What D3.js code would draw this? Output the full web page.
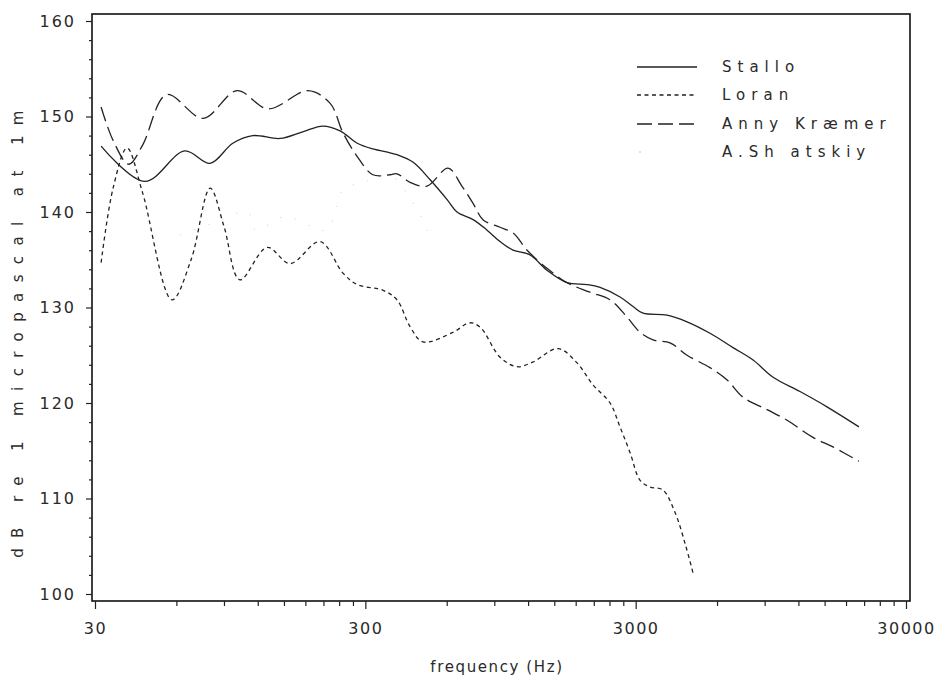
<!DOCTYPE html>
<html>
<head>
<meta charset="utf-8">
<script src="https://cdn.jsdelivr.net/npm/d3@7/dist/d3.min.js"></script>
<style>
  html, body { margin: 0; padding: 0; background: #fff; }
  svg { display: block; }
  text { font-family: "DejaVu Sans", sans-serif; fill: #2a2a2a; }
</style>
</head>
<body>
<svg id="chart" width="940" height="687"></svg>
<script>
// Radiated noise spectra, source level in dB re 1 µPa at 1 m, vs frequency.
const seriesNames = ["Stallo", "Loran", "Anny Kræmer", "A.Sh atskiy"];

const stalloFreq = [31.6, 45.9, 64.4, 80, 97, 115, 145, 176, 209, 242, 280, 320, 370, 393, 451, 520, 602, 655, 751, 846, 945, 1056, 1221, 1410, 1672, 1983, 2215, 2626, 2935, 3196, 3918, 4647, 5652, 6875, 8155, 9670, 12165, 15300, 20100];
const stalloDb   = [146.9, 143.2, 146.4, 145.1, 147.2, 148.0, 147.7, 148.4, 149.0, 148.5, 147.2, 146.6, 146.2, 146.0, 145.2, 143.4, 141.3, 140.0, 139.2, 138.1, 136.9, 136.0, 135.5, 133.9, 132.6, 132.4, 132.1, 131.1, 130.1, 129.4, 129.2, 128.5, 127.3, 125.8, 124.5, 122.7, 121.2, 119.6, 117.5];

const loranFreq = [31.6, 35, 39.4, 45, 57.8, 68, 80, 90, 103, 130, 158, 204, 248, 280, 349, 393, 439, 490, 633, 731, 800, 945, 1092, 1252, 1549, 1821, 2085, 2413, 2625, 2860, 3115, 3391, 3780, 4200, 4600, 4890];
const loranDb   = [134.7, 142.5, 146.7, 142.0, 130.8, 135.0, 142.5, 138.5, 132.9, 136.3, 134.6, 136.9, 133.6, 132.4, 131.8, 130.8, 128.0, 126.4, 127.4, 128.4, 127.9, 124.8, 123.8, 124.3, 125.7, 124.2, 121.9, 120.0, 117.5, 114.8, 111.9, 111.2, 110.9, 108.5, 105.0, 102.2];

const kraemerFreq = [31.6, 35, 40, 45, 55.3, 75.3, 100.5, 131, 184, 222, 248, 280, 320, 370, 393, 439, 507, 607, 680, 751, 817, 945, 1056, 1190, 1410, 1672, 2034, 2413, 2787, 3115, 3478, 4020, 4647, 5652, 6540, 7490, 9190, 10890, 13580, 16100, 20100];
const kraemerDb   = [151.0, 147.5, 145.0, 147.0, 152.3, 149.8, 152.7, 150.8, 152.7, 151.4, 148.3, 145.8, 143.9, 143.9, 144.0, 143.1, 142.7, 144.6, 142.8, 140.9, 139.2, 138.4, 137.8, 136.0, 134.1, 132.6, 131.6, 130.8, 129.0, 127.4, 126.6, 126.3, 125.0, 123.7, 122.4, 120.6, 119.3, 118.2, 116.4, 115.4, 113.9];

const shatskiyFreq = [62, 85, 110, 118, 150, 190, 217, 236, 247, 300, 370, 450, 520];
const shatskiyDb   = [137.6, 139.0, 140.0, 138.1, 139.5, 138.5, 138.1, 140.8, 142.3, 143.2, 143.8, 141.0, 137.5];

const xMajorTicks = [30, 300, 3000, 30000];
const xTickLabels = ["30", "300", "3000", "30000"];
const yMajorTicks = [100, 110, 120, 130, 140, 150, 160];

const svg = d3.select("#chart");

const x = d3.scaleLog().domain([30, 30000]).range([95, 906]);
const y = d3.scaleLinear().domain([100, 160]).range([594, 21]);

// plot frame
const frame = { left: 92, right: 910, top: 14, bottom: 601 };
svg.append("rect")
  .attr("x", frame.left).attr("y", frame.top)
  .attr("width", frame.right - frame.left).attr("height", frame.bottom - frame.top)
  .attr("fill", "none").attr("stroke", "#111").attr("stroke-width", 1.6);

// x axis: minor ticks at 2..9 multiples of each labelled decade
const xMinor = [];
xMajorTicks.slice(0, 3).forEach(b => { for (let k = 2; k <= 9; k++) xMinor.push(b * k); });
const xAxisMinor = d3.axisBottom(x).tickValues(xMinor).tickSize(5).tickFormat("");
const xAxisMajor = d3.axisBottom(x).tickValues(xMajorTicks).tickSize(8)
  .tickFormat((d, i) => xTickLabels[i]).tickPadding(14);

const gxm = svg.append("g").attr("transform", `translate(0,${frame.bottom})`).call(xAxisMinor);
const gx = svg.append("g").attr("transform", `translate(0,${frame.bottom})`).call(xAxisMajor);
[gxm, gx].forEach(g => {
  g.select(".domain").remove();
  g.selectAll("line").attr("stroke", "#222").attr("stroke-width", 1.2);
});
gx.selectAll("text").attr("font-size", 16).attr("letter-spacing", 1.5).attr("fill", "#333");

// y axis: minor ticks every 2 dB
const yMinor = d3.range(100, 161, 2).filter(v => v % 10 !== 0);
const yAxisMinor = d3.axisLeft(y).tickValues(yMinor).tickSize(3).tickFormat("");
const yAxisMajor = d3.axisLeft(y).tickValues(yMajorTicks).tickSize(6).tickPadding(10).tickFormat(d3.format("d"));
const gym = svg.append("g").attr("transform", `translate(${frame.left},0)`).call(yAxisMinor);
const gy = svg.append("g").attr("transform", `translate(${frame.left},0)`).call(yAxisMajor);
[gym, gy].forEach(g => {
  g.select(".domain").remove();
  g.selectAll("line").attr("stroke", "#222").attr("stroke-width", 1.2);
});
gy.selectAll("text").attr("font-size", 16).attr("letter-spacing", 2).attr("fill", "#333");

// axis titles
svg.append("text")
  .attr("x", 497).attr("y", 672).attr("text-anchor", "middle")
  .attr("font-size", 15).attr("letter-spacing", 1.6)
  .attr("fill", "#333")
  .text("frequency  (Hz)");

svg.append("text")
  .attr("transform", "translate(23,329) rotate(-90)")
  .attr("text-anchor", "middle")
  .attr("font-size", 15).attr("letter-spacing", 10.4)
  .attr("fill", "#333")
  .text("dB re 1 micropascal at 1m");

// series
const styles = [
  { dash: null, color: "#222", width: 1.3, opacity: 1 },
  { dash: "4,3.5", color: "#222", width: 1.3, opacity: 1 },
  { dash: "15,6", color: "#222", width: 1.3, opacity: 1 },
  { dash: "1,14", color: "#c8c8c8", width: 1.2, opacity: 0.7 }
];
const data = [
  d3.zip(stalloFreq, stalloDb),
  d3.zip(loranFreq, loranDb),
  d3.zip(kraemerFreq, kraemerDb),
  d3.zip(shatskiyFreq, shatskiyDb)
];

const line = d3.line()
  .x(d => x(d[0])).y(d => y(d[1]))
  .curve(d3.curveCatmullRom.alpha(0.5));

data.forEach((pts, i) => {
  const s = styles[i];
  svg.append("path")
    .datum(pts)
    .attr("d", line)
    .attr("fill", "none")
    .attr("stroke", s.color)
    .attr("stroke-width", s.width)
    .attr("stroke-opacity", s.opacity)
    .attr("stroke-dasharray", s.dash);
});

// legend
const legendY = [67, 95, 124, 152];
seriesNames.forEach((name, i) => {
  const s = styles[i];
  const ly = legendY[i];
  if (i < 3) {
    svg.append("line")
      .attr("x1", 637).attr("x2", 697).attr("y1", ly).attr("y2", ly)
      .attr("stroke", s.color).attr("stroke-width", s.width)
      .attr("stroke-dasharray", s.dash);
  } else {
    svg.append("circle").attr("cx", 640).attr("cy", ly).attr("r", 0.8).attr("fill", "#bbb");
  }
  svg.append("text")
    .attr("x", 722).attr("y", ly + 5)
    .attr("font-size", 15).attr("letter-spacing", 6)
    .text(name);
});
</script>
</body>
</html>
